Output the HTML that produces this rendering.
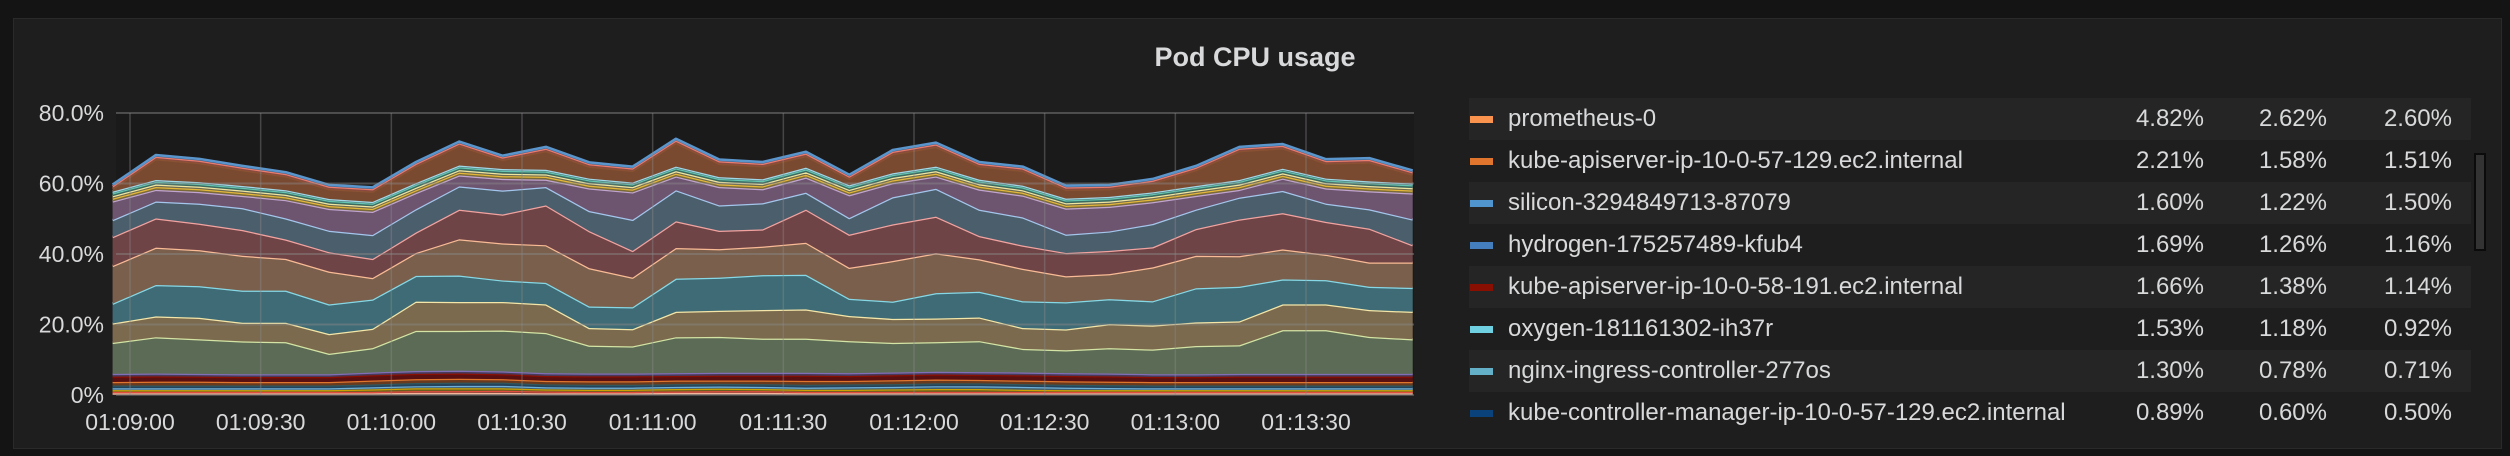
<!DOCTYPE html>
<html><head><meta charset="utf-8">
<style>
html,body{margin:0;padding:0;background:#141414;width:2510px;height:456px;overflow:hidden;font-family:"Liberation Sans",sans-serif;}
#panel{position:absolute;left:13px;top:18px;width:2489px;height:431px;background:#1f1e1f;border:1px solid #2a2a2a;box-sizing:border-box;}
#title{position:absolute;left:0;width:2510px;top:42px;text-align:center;color:#d8d9da;font-weight:bold;font-size:27px;}
svg{position:absolute;left:0;top:0;}
.row{position:absolute;left:1469px;width:1002px;height:42px;}
.sw{position:absolute;left:1px;top:18px;width:23px;height:7px;}
.nm{position:absolute;left:39px;top:7px;color:#d8d9da;font-size:24px;white-space:nowrap;}
.v{position:absolute;top:7px;color:#d8d9da;font-size:24px;text-align:right;width:120px;}
#scroll{position:absolute;left:2474px;top:153px;width:12px;height:98px;border:2px solid #0b0b0b;background:#333;box-sizing:border-box;}
</style></head>
<body>
<div id="panel"></div>
<div id="title">Pod CPU usage</div>
<svg id="chart" width="2510" height="456"></svg>
<div id="legend"></div>
<div id="scroll"></div>
<script>
const xTickLabels=["01:09:00","01:09:30","01:10:00","01:10:30","01:11:00","01:11:30","01:12:00","01:12:30","01:13:00","01:13:30"];
const yTickValues=[0,20,40,60,80];
const yTickLabels=["0%","20.0%","40.0%","60.0%","80.0%"];
const sPeach=[0.5,0.5,0.5,0.5,0.5,0.5,0.5,0.6,0.6,0.6,0.5,0.5,0.5,0.6,0.6,0.6,0.5,0.5,0.5,0.5,0.5,0.5,0.5,0.5,0.5,0.5,0.5,0.5,0.5,0.5,0.5];
const sRed=[0.4,0.4,0.4,0.4,0.4,0.4,0.4,0.5,0.5,0.6,0.5,0.4,0.4,0.4,0.5,0.5,0.4,0.4,0.4,0.4,0.4,0.4,0.4,0.4,0.4,0.4,0.4,0.4,0.4,0.4,0.4];
const sYellow=[0.5,0.5,0.5,0.5,0.5,0.5,0.7,0.8,0.8,0.7,0.6,0.6,0.6,0.7,0.7,0.6,0.6,0.6,0.7,0.8,0.8,0.6,0.5,0.5,0.5,0.5,0.5,0.5,0.5,0.5,0.5];
const sLightBlue=[0.5,0.5,0.5,0.5,0.5,0.5,0.6,0.6,0.7,0.7,0.6,0.6,0.6,0.6,0.6,0.6,0.6,0.7,0.7,0.8,0.8,0.8,0.7,0.6,0.5,0.5,0.5,0.5,0.5,0.5,0.5];
const sDarkBlue=[0.8,0.8,0.8,0.8,0.8,0.8,0.8,0.9,0.9,0.9,0.8,0.8,0.8,0.8,0.8,0.8,0.8,0.8,0.8,0.8,0.8,0.8,0.8,0.8,0.8,0.8,0.8,0.8,0.8,0.8,0.8];
const sOrange=[1.0,1.1,1.1,1.0,1.0,1.0,1.1,1.1,1.1,1.0,1.0,1.0,1.0,1.0,0.9,1.0,1.1,1.0,1.1,1.1,1.0,1.0,1.0,1.0,1.0,1.0,1.0,1.0,1.0,1.0,1.0];
const sDarkRed=[1.5,1.5,1.4,1.4,1.4,1.4,1.5,1.5,1.5,1.4,1.4,1.4,1.4,1.3,1.4,1.4,1.5,1.4,1.4,1.4,1.4,1.5,1.5,1.5,1.4,1.4,1.5,1.5,1.5,1.5,1.5];
const sPurple=[0.8,0.8,0.8,0.8,0.8,0.8,0.8,0.8,0.8,0.8,0.8,0.8,0.8,0.8,0.8,0.8,0.8,0.8,0.8,0.8,0.8,0.8,0.8,0.8,0.8,0.8,0.8,0.8,0.8,0.8,0.8];
const sGreen=[8.8,10.3,9.8,9.3,9.1,5.8,6.9,11.4,11.3,11.6,11.4,7.9,7.7,10.2,10.2,9.7,9.7,9.1,8.4,8.4,8.8,6.7,6.5,7.2,7.0,8.0,8.1,12.4,12.4,10.5,9.8];
const sTan=[5.5,5.9,6.1,5.3,5.5,5.6,5.5,8.3,8.2,8.1,8.1,5.0,4.9,7.2,7.4,8.1,8.3,7.1,6.8,6.7,6.7,5.9,5.9,6.8,6.8,6.7,6.8,7.3,7.3,7.6,7.8];
const sTeal=[5.6,8.9,9.0,9.1,9.1,8.4,8.3,7.3,7.5,6.1,6.1,6.1,6.2,9.4,9.4,9.9,9.8,4.9,4.9,7.2,7.3,7.6,7.7,7.1,6.9,9.7,9.8,7.1,6.9,6.6,6.8];
const sBrown=[10.7,10.6,10.2,9.9,9.0,9.3,6.1,6.5,10.3,10.5,10.7,10.9,8.4,8.7,8.1,8.1,9.1,8.8,11.5,11.3,9.2,9.2,7.4,7.1,9.6,9.2,8.7,8.5,7.2,6.9,7.2];
const sRose=[8.2,8.3,7.5,7.3,5.5,5.5,5.4,5.8,8.4,8.2,11.3,10.5,7.6,7.6,5.2,4.9,9.4,9.4,10.4,10.4,6.6,6.6,6.6,6.6,5.7,7.6,10.4,10.3,9.3,9.6,4.9];
const sSlate=[4.8,4.8,5.7,6.2,6.0,6.1,6.8,6.6,6.6,6.8,5.2,5.7,8.8,8.8,7.2,7.4,4.8,4.7,7.7,7.9,7.5,8.0,5.2,5.5,6.6,5.5,6.2,6.3,5.2,5.5,7.3];
const sMauve=[5.3,3.3,3.3,3.5,5.2,6.2,6.6,4.6,3.1,3.3,2.1,6.4,7.8,3.9,5.2,4.0,4.3,6.5,4.0,3.5,5.7,6.2,7.4,7.0,6.2,3.9,2.2,3.5,4.3,5.1,7.4];
const sGold=[0.8,0.8,0.8,0.8,0.8,0.8,0.8,0.8,0.8,0.8,0.8,0.8,0.8,0.8,0.8,0.8,0.8,0.8,0.8,0.8,0.8,0.8,0.8,0.8,0.8,0.8,0.8,0.8,0.8,0.8,0.8];
const sCream=[0.7,0.7,0.7,0.7,0.7,0.7,0.7,0.7,0.7,0.7,0.7,0.7,0.7,0.7,0.7,0.7,0.7,0.7,0.7,0.7,0.7,0.7,0.7,0.7,0.7,0.7,0.7,0.7,0.7,0.7,0.7];
const sAqua=[0.8,0.8,0.8,0.8,0.8,0.8,0.8,0.8,0.8,0.8,0.8,0.8,0.8,0.8,0.8,0.8,0.8,0.8,0.8,0.8,0.8,0.8,0.8,0.8,0.8,0.8,0.8,0.8,0.8,0.8,0.8];
const sSky=[0.5,0.5,0.5,0.5,0.5,0.5,0.5,0.5,0.5,0.5,0.5,0.5,0.5,0.5,0.5,0.5,0.5,0.5,0.5,0.5,0.5,0.5,0.5,0.5,0.5,0.5,0.5,0.5,0.5,0.5,0.5];
const sRust=[0.8,5.9,5.4,4.5,3.9,2.8,2.9,4.8,5.6,2.6,5.3,3.4,3.3,6.7,3.8,3.7,3.3,1.8,5.4,5.6,3.8,4.2,2.5,2.2,2.6,4.5,8.2,5.8,4.3,5.4,2.5];
const sSalmon=[0.7,0.7,0.7,0.7,0.7,0.7,0.7,0.7,0.7,0.7,0.7,0.7,0.7,0.7,0.7,0.7,0.7,0.7,0.7,0.7,0.7,0.7,0.7,0.7,0.7,0.7,0.7,0.7,0.7,0.7,0.7];
const sBlue=[0.5,0.5,0.5,0.5,0.5,0.5,0.5,0.5,0.5,0.5,0.5,0.5,0.5,0.5,0.5,0.5,0.5,0.5,0.5,0.5,0.5,0.5,0.5,0.5,0.5,0.5,0.5,0.5,0.5,0.5,0.5];
const legendNames=["prometheus-0","kube-apiserver-ip-10-0-57-129.ec2.internal","silicon-3294849713-87079","hydrogen-175257489-kfub4","kube-apiserver-ip-10-0-58-191.ec2.internal","oxygen-181161302-ih37r","nginx-ingress-controller-277os","kube-controller-manager-ip-10-0-57-129.ec2.internal"];
const legendMax=["4.82%","2.21%","1.60%","1.69%","1.66%","1.53%","1.30%","0.89%"];
const legendAvg=["2.62%","1.58%","1.22%","1.26%","1.38%","1.18%","0.78%","0.60%"];
const legendCur=["2.60%","1.51%","1.50%","1.16%","1.14%","0.92%","0.71%","0.50%"];
const legendColors=["#f9934e","#e0752d","#5195ce","#447ebc","#890f02","#6ed0e0","#64b0c8","#0a437c"];

const series=[
 {v:sPeach,line:"#f4b79a",fill:"#8c6a5a"},{v:sRed,line:"#e24d42",fill:"#7a3a32"},
 {v:sYellow,line:"#cca300",fill:"#6e5e1e"},{v:sLightBlue,line:"#70b0d8",fill:"#3e5e70"},
 {v:sDarkBlue,line:"#2f575e",fill:"#24435a"},{v:sOrange,line:"#e0752d",fill:"#6a3a1e"},
 {v:sDarkRed,line:"#890f02",fill:"#5a1010"},{v:sPurple,line:"#806eb7",fill:"#4a3a5a"},
 {v:sGreen,line:"#d3e4a4",fill:"#5c6b55"},{v:sTan,line:"#f4e6a8",fill:"#7b6a4e"},
 {v:sTeal,line:"#86d8e6",fill:"#3e6b75"},{v:sBrown,line:"#f9bb95",fill:"#7a5f4d"},
 {v:sRose,line:"#f2a3a0",fill:"#6f4446"},{v:sSlate,line:"#a4c6ec",fill:"#4b5e6b"},
 {v:sMauve,line:"#c1a5d0",fill:"#6d5570"},{v:sGold,line:"#e5b83a",fill:"#7a6a3a"},
 {v:sCream,line:"#f0e4a0",fill:"#6e6a50"},{v:sAqua,line:"#65c5b0",fill:"#3a6a60"},
 {v:sSky,line:"#a0d8e8",fill:"#4a6a70"},{v:sRust,line:"#8a5232",fill:"#7a4a30"},
 {v:sSalmon,line:"#ea7d6e",fill:"#8a4a40"},{v:sBlue,line:"#5a95cc",fill:"#3a5a80"}
];
const NS="http://www.w3.org/2000/svg";
const svg=document.getElementById('chart');
const L=116,R=1414,T=113,B=395;
const t0=-4,t1=294.5;
const n=sGreen.length;
function tx(t){return 130+(t)*(1306-130)/270;}
function xAt(i){return tx(t0+i*(t1-t0)/(n-1));}
function y(p){return B-(p/80)*(B-T);}
function mk(tag,attrs){const e=document.createElementNS(NS,tag);for(const k in attrs)e.setAttribute(k,attrs[k]);svg.appendChild(e);return e;}
let bg=mk('rect',{x:L,y:T,width:R-L,height:B-T,fill:'#1b1a1b'});


let base=new Array(n).fill(0);
series.forEach((s,si)=>{
 const top=base.map((b,i)=>b+s.v[i]);
 let d='M'+xAt(0)+','+y(top[0]);
 for(let i=1;i<n;i++)d+='L'+xAt(i)+','+y(top[i]);
 for(let i=n-1;i>=0;i--)d+='L'+xAt(i)+','+y(base[i]);
 d+='Z';
 const a=mk('path',{d:d,fill:s.fill,stroke:'none'});
 
 
 let ld='M'+xAt(0)+','+y(top[0]);
 for(let i=1;i<n;i++)ld+='L'+xAt(i)+','+y(top[i]);
 const l=mk('path',{d:ld,fill:'none',stroke:s.line,'stroke-width':2.5,'stroke-linejoin':'round'});
 
 
 base=top;
});
yTickValues.forEach((v,i)=>{
 const g=mk('line',{x1:L,x2:R,y1:y(v),y2:y(v),stroke:'#8a8a8a','stroke-opacity':0.45,'stroke-width':2});
 
 
 const t=mk('text',{x:104,y:y(v)+8,'text-anchor':'end',fill:'#d8d9da','font-size':23,'font-family':'Liberation Sans, sans-serif'});
 t.textContent=yTickLabels[i];
 
 
});
xTickLabels.forEach((lab,i)=>{
 const xx=tx(i*30);
 const g=mk('line',{x1:xx,x2:xx,y1:T,y2:B,stroke:'#8a8a8a','stroke-opacity':0.4,'stroke-width':1.5});
 
 
 const t=mk('text',{x:xx,y:430,'text-anchor':'middle',fill:'#d8d9da','font-size':23,'font-family':'Liberation Sans, sans-serif'});
 t.textContent=lab;
 
 
});
const lg=document.getElementById('legend');
legendNames.forEach((nm,i)=>{
 const r=document.createElement('div');
 r.className='row';
 r.style.top=(98+i*42)+'px';
 r.style.background=(i%2==0)?'#252525':'#1f1e1f';
 
 
 r.innerHTML='<div class="sw" style="background:'+legendColors[i]+'"></div><div class="nm">'+nm+'</div>'+
  '<div class="v" style="left:615px">'+legendMax[i]+'</div><div class="v" style="left:738px">'+legendAvg[i]+'</div><div class="v" style="left:863px">'+legendCur[i]+'</div>';
 lg.appendChild(r);
});
</script>
</body></html>
